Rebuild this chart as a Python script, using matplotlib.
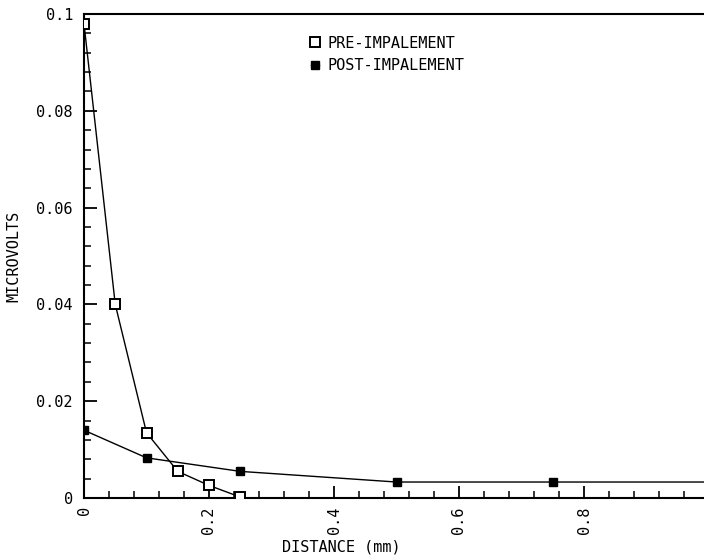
import numpy as np
import matplotlib
matplotlib.use("Agg")
import matplotlib.pyplot as plt
from matplotlib.ticker import MultipleLocator, FixedFormatter, FixedLocator

pre_x = [0.0, 0.05, 0.10, 0.15, 0.20, 0.25]
pre_y = [0.098, 0.040, 0.0135, 0.0055, 0.0026, 0.0002]
post_x = [0.0, 0.10, 0.25, 0.50, 0.75, 1.0]
post_y = [0.014, 0.0083, 0.0055, 0.0033, 0.0033, 0.0033]

x_ticks = [0, 0.2, 0.4, 0.6, 0.8]
x_tick_labels = ['0', '0.2', '0.4', '0.6', '0.8']
y_ticks = [0, 0.02, 0.04, 0.06, 0.08, 0.1]
y_tick_labels = ['0', '0.02', '0.04', '0.06', '0.08', '0.1']

plt.rcParams['font.family'] = ['DejaVu Sans Mono']

fig = plt.figure(figsize=(7.04, 5.58), dpi=100)
ax = fig.add_axes([84 / 704, 60 / 558, 625 / 704, 484 / 558])

ax.plot(pre_x, pre_y, color='black', lw=1.0, marker='s', markersize=6.5,
        markerfacecolor='white', markeredgecolor='black', markeredgewidth=1.4,
        label='PRE-IMPALEMENT', zorder=3)
ax.plot(post_x, post_y, color='black', lw=1.0, marker='s', markersize=5.5,
        markerfacecolor='black', markeredgecolor='black',
        label='POST-IMPALEMENT', zorder=3)

ax.set_xlim(0, 1.0)
ax.set_ylim(0, 0.1)

ax.xaxis.set_major_locator(FixedLocator(x_ticks))
ax.xaxis.set_major_formatter(FixedFormatter(x_tick_labels))
ax.yaxis.set_major_locator(FixedLocator(y_ticks))
ax.yaxis.set_major_formatter(FixedFormatter(y_tick_labels))
ax.xaxis.set_minor_locator(MultipleLocator(0.04))
ax.yaxis.set_minor_locator(MultipleLocator(0.004))

ax.tick_params(which='major', direction='in', length=9, width=1.3)
ax.tick_params(which='minor', direction='in', length=5, width=1.1)
ax.tick_params(axis='x', labelrotation=90, labelsize=11, pad=6)
ax.tick_params(axis='y', labelsize=11, pad=8)
ax.tick_params(top=False, right=False, which='both')

for s in ['left', 'bottom', 'top']:
    ax.spines[s].set_linewidth(1.5)
ax.spines['right'].set_visible(False)

ax.set_xlabel('DISTANCE (mm)', fontsize=11, labelpad=2)
ax.xaxis.set_label_coords((341 - 84) / 625, -0.085)
ax.set_ylabel('MICROVOLTS', fontsize=11)
ax.yaxis.set_label_coords(-0.1, 0.5)

ax.legend(loc='upper left', bbox_to_anchor=((305 - 84) / 625, 0.968),
          frameon=False, handlelength=0.5, handletextpad=0.6,
          fontsize=11, labelspacing=0.5, borderaxespad=0)

fig.savefig('out.png', dpi=100)
